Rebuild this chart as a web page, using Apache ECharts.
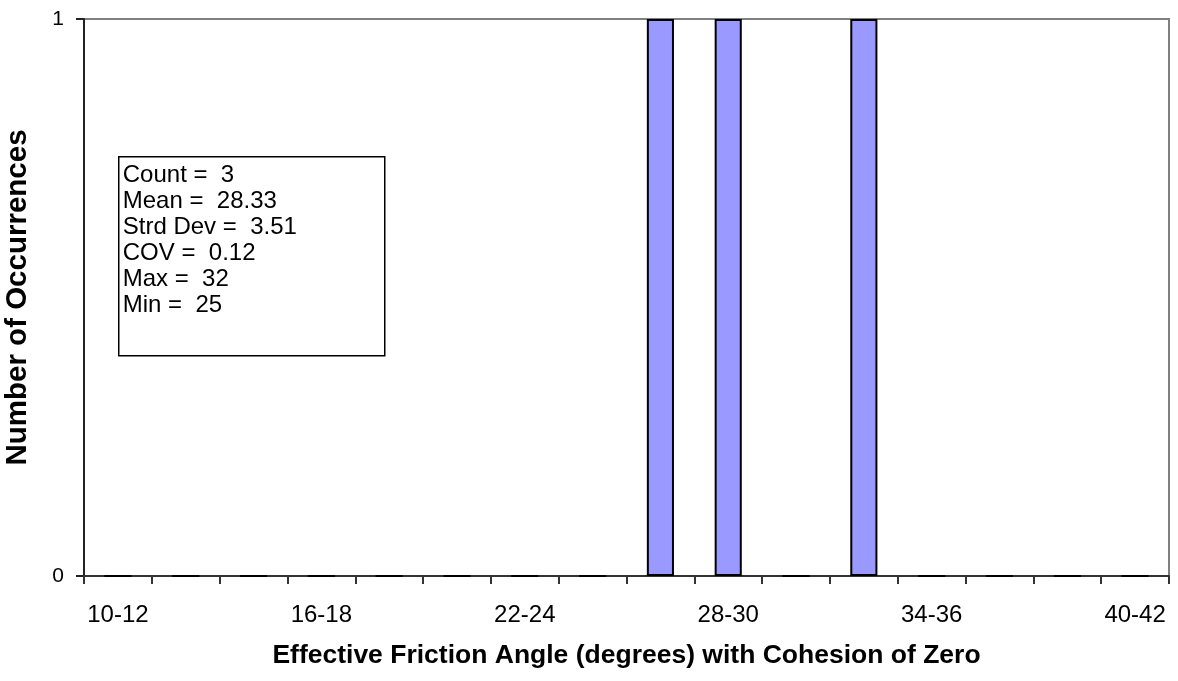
<!DOCTYPE html>
<html>
<head>
<meta charset="utf-8">
<script src="https://cdn.jsdelivr.net/npm/echarts@6/dist/echarts.min.js"></script>
<style>html,body{margin:0;padding:0;background:#fff;}#c{width:1178px;height:681px;}</style>
</head>
<body>
<div id="c"></div>
<script>
const categories = ['10-12','12-14','14-16','16-18','18-20','20-22','22-24','24-26','26-28','28-30','30-32','32-34','34-36','36-38','38-40','40-42'];
const counts = [0,0,0,0,0,0,0,0,1,1,0,1,0,0,0,0];
const yTicks = [0, 1];
const statLabels = ['Count','Mean','Strd Dev','COV','Max','Min'];
const statValues = ['3','28.33','3.51','0.12','32','25'];
const xTitle = 'Effective Friction Angle (degrees) with Cohesion of Zero';
const yTitle = 'Number of Occurrences';

const font = '"Liberation Sans", Arial, sans-serif';
const chart = echarts.init(document.getElementById('c'), null, {renderer: 'canvas'});
const statText = statLabels.map((l, i) => l + ' =  ' + statValues[i]).join('\n');

chart.setOption({
  animation: false,
  backgroundColor: '#fff',
  grid: {left: 84, right: 9, top: 19, bottom: 105, containLabel: false, outerBoundsMode: 'none', show: true, borderColor: '#808080', borderWidth: 2, backgroundColor: 'transparent'},
  xAxis: {
    type: 'category',
    data: categories,
    name: xTitle,
    nameLocation: 'middle',
    nameGap: 66,
    nameTextStyle: {fontFamily: font, fontSize: 26.5, fontWeight: 'bold', color: '#000'},
    axisLine: {lineStyle: {color: '#333', width: 2}},
    axisTick: {show: true, interval: 0, length: 8, alignWithLabel: false, lineStyle: {color: '#333', width: 2}},
    axisLabel: {interval: 2, margin: 27, fontFamily: font, fontSize: 24, color: '#000'},
    splitLine: {show: false}
  },
  yAxis: {
    type: 'value',
    min: yTicks[0],
    max: yTicks[yTicks.length - 1],
    interval: 1,
    name: yTitle,
    nameLocation: 'middle',
    nameGap: 51,
    nameTextStyle: {fontFamily: font, fontSize: 29.5, fontWeight: 'bold', color: '#000'},
    axisLine: {show: true, lineStyle: {color: '#222', width: 2}},
    axisTick: {show: true, length: 8, lineStyle: {color: '#222', width: 2}},
    axisLabel: {margin: 20, fontFamily: font, fontSize: 21, color: '#000'},
    splitLine: {show: false}
  },
  series: [{
    type: 'bar',
    data: counts,
    barWidth: '40%',
    itemStyle: {color: '#9999FF', borderColor: '#000', borderWidth: 2}
  }],
  graphic: [{
    type: 'group',
    left: 118,
    top: 156,
    children: [
      {type: 'rect', shape: {x: 0, y: 0, width: 266, height: 199}, style: {fill: '#fff', stroke: '#000', lineWidth: 1.5}},
      {type: 'text', x: 4, y: 6, style: {text: statText, font: '24px ' + font, fill: '#000', lineHeight: 26}}
    ]
  }]
});
</script>
</body>
</html>
